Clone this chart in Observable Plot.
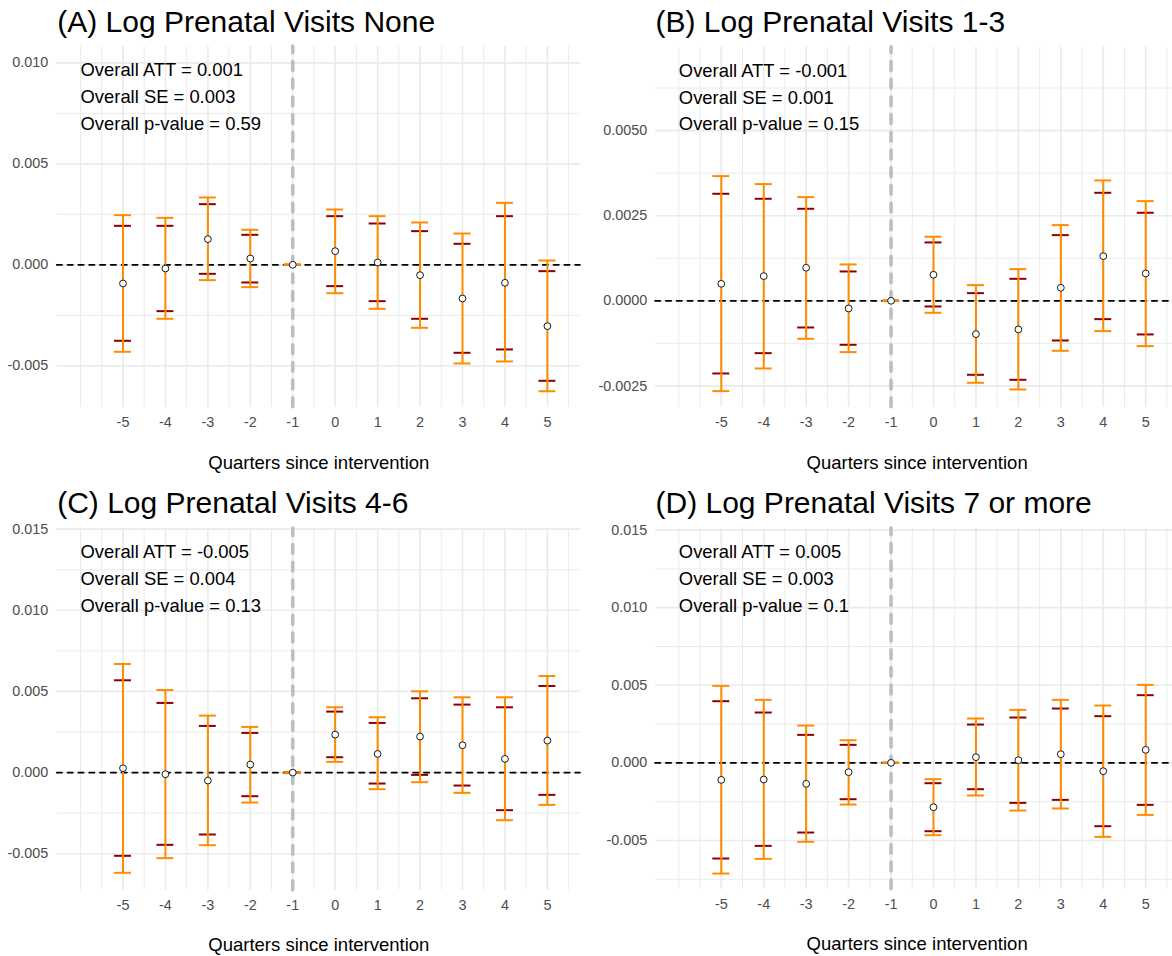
<!DOCTYPE html>
<html><head><meta charset="utf-8">
<script src="https://cdn.jsdelivr.net/npm/d3@7"></script>
<script src="https://cdn.jsdelivr.net/npm/@observablehq/plot@0.6"></script>
<style>
html,body{margin:0;padding:0;background:#fff;overflow:hidden;width:1172px;height:956px;}
#wrap{position:relative;width:1172px;height:956px;overflow:hidden;background:#fff;}
.panel{position:absolute;}
</style></head><body><div id="wrap"></div>
<script>
// ---------- data ----------
const quarters = [-5, -4, -3, -2, -1, 0, 1, 2, 3, 4, 5];
const xTickLabels = ["-5", "-4", "-3", "-2", "-1", "0", "1", "2", "3", "4", "5"];
const xLabel = "Quarters since intervention";
const annotX = -6;

// (A)
const titleA = "(A) Log Prenatal Visits None";
const statsA = ["Overall ATT = 0.001", "Overall SE = 0.003", "Overall p-value = 0.59"];
const estA   = [-0.000924, -0.000182, 0.001271, 0.000314, 0, 0.000677, 0.000116, -0.000512, -0.001667, -0.000891, -0.003036];
const ciLoA  = [-0.003762, -0.002294, -0.000446, -0.000875, 0, -0.001056, -0.001799, -0.002673, -0.004356, -0.004191, -0.005743];
const ciHiA  = [0.001931, 0.001931, 0.003003, 0.001485, 0, 0.002409, 0.002046, 0.001667, 0.001040, 0.002409, -0.000314];
const cbLoA  = [-0.004307, -0.002673, -0.000759, -0.001106, 0, -0.001403, -0.002178, -0.003119, -0.004884, -0.004785, -0.006260];
const cbHiA  = [0.002459, 0.002327, 0.003333, 0.001733, 0, 0.002739, 0.002409, 0.002096, 0.001551, 0.003069, 0.000215];
const yTicksA = [-0.005, 0, 0.005, 0.010];

// (B)
const titleB = "(B) Log Prenatal Visits 1-3";
const statsB = ["Overall ATT = -0.001", "Overall SE = 0.001", "Overall p-value = 0.15"];
const estB   = [0.000500, 0.000725, 0.000970, -0.000225, 0, 0.000764, -0.000979, -0.000842, 0.000382, 0.001312, 0.000803];
const ciLoB  = [-0.002135, -0.001538, -0.000784, -0.001293, 0, -0.000167, -0.002174, -0.002321, -0.001166, -0.000539, -0.000989];
const ciHiB  = [0.003144, 0.002997, 0.002703, 0.000862, 0, 0.001714, 0.000225, 0.000646, 0.001929, 0.003173, 0.002586];
const cbLoB  = [-0.002654, -0.001988, -0.001117, -0.001508, 0, -0.000353, -0.002409, -0.002605, -0.001469, -0.000891, -0.001332];
const cbHiB  = [0.003663, 0.003428, 0.003046, 0.001068, 0, 0.001881, 0.000460, 0.000930, 0.002223, 0.003536, 0.002928];
const yTicksB = [-0.0025, 0, 0.0025, 0.005];

// (C)
const titleC = "(C) Log Prenatal Visits 4-6";
const statsC = ["Overall ATT = -0.005", "Overall SE = 0.004", "Overall p-value = 0.13"];
const estC   = [0.000267, -0.000103, -0.000493, 0.000493, 0, 0.002340, 0.001149, 0.002217, 0.001683, 0.000842, 0.001970];
const ciLoC  = [-0.005131, -0.004454, -0.003818, -0.001457, 0, 0.000944, -0.000677, -0.000144, -0.000800, -0.002319, -0.001375];
const ciHiC  = [0.005686, 0.004290, 0.002874, 0.002443, 0, 0.003756, 0.003058, 0.004577, 0.004187, 0.004023, 0.005337];
const cbLoC  = [-0.006178, -0.005275, -0.004475, -0.001847, 0, 0.000657, -0.001026, -0.000595, -0.001252, -0.002935, -0.001991];
const cbHiC  = [0.006691, 0.005090, 0.003510, 0.002812, 0, 0.004023, 0.003407, 0.005008, 0.004639, 0.004639, 0.005952];
const yTicksC = [-0.005, 0, 0.005, 0.010, 0.015];

// (D)
const titleD = "(D) Log Prenatal Visits 7 or more";
const statsD = ["Overall ATT = 0.005", "Overall SE = 0.003", "Overall p-value = 0.1"];
const estD   = [-0.001095, -0.001074, -0.001353, -0.000601, 0, -0.002857, 0.000365, 0.000172, 0.000558, -0.000537, 0.000838];
const ciLoD  = [-0.006164, -0.005348, -0.004489, -0.002341, 0, -0.004403, -0.001697, -0.002577, -0.002384, -0.004081, -0.002706];
const ciHiD  = [0.003973, 0.003243, 0.001804, 0.001160, 0, -0.001310, 0.002470, 0.002921, 0.003501, 0.003007, 0.004360];
const cbLoD  = [-0.007131, -0.006186, -0.005090, -0.002685, 0, -0.004661, -0.002105, -0.003071, -0.002942, -0.004768, -0.003351];
const cbHiD  = [0.004961, 0.004059, 0.002405, 0.001460, 0, -0.001052, 0.002857, 0.003415, 0.004059, 0.003694, 0.005026];
const yTicksD = [-0.005, 0, 0.005, 0.010, 0.015];

// ---------- drawing ----------
const FONT = "'Liberation Sans', Arial, 'DejaVu Sans', sans-serif";
const ORANGE = "#FF8C00", DARKRED = "#8B0000", GRID = "#EBEBEB", TICKTXT = "#4D4D4D";
const xDomain = [-6.55, 5.78];

function steps(lo, hi, step) {
  const out = [];
  const n0 = Math.ceil(lo / step - 1e-9), n1 = Math.floor(hi / step + 1e-9);
  for (let k = n0; k <= n1; k++) out.push(+(k * step).toFixed(10));
  return out;
}

const panels = [
  {title: titleA, stats: statsA, est: estA, ciLo: ciLoA, ciHi: ciHiA, cbLo: cbLoA, cbHi: cbHiA, yTicks: yTicksA, digits: 3,
   yDomain: [-0.00705, 0.01081], left: 0, top: 0, width: 586, mL: 56.7, mR: 6, mT: 46, mB: 71.3, titleDy: -14.3, xPad: 10, xLabDy: 56.3, labPad: 9},
  {title: titleB, stats: statsB, est: estB, ciLo: ciLoB, ciHi: ciHiB, cbLo: cbLoB, cbHi: cbHiB, yTicks: yTicksB, digits: 4,
   yDomain: [-0.003126, 0.00745], left: 586, top: 0, width: 600, mL: 69, mR: 7.7, mT: 46.7, mB: 71.3, titleDy: -15, xPad: 10, xLabDy: 56.3, labPad: 8.3},
  {title: titleC, stats: statsC, est: estC, ciLo: ciLoC, ciHi: ciHiC, cbLo: cbLoC, cbHi: cbHiC, yTicks: yTicksC, digits: 3,
   yDomain: [-0.00725, 0.01504], left: 0, top: 478, width: 586, mL: 56.7, mR: 6, mT: 50, mB: 66.3, titleDy: -15.7, xPad: 9.3, xLabDy: 55, labPad: 9},
  {title: titleD, stats: statsD, est: estD, ciLo: ciLoD, ciHi: ciHiD, cbLo: cbLoD, cbHi: cbHiD, yTicks: yTicksD, digits: 3,
   yDomain: [-0.00814, 0.0151], left: 586, top: 478, width: 600, mL: 69, mR: 7.7, mT: 50, mB: 67.3, titleDy: -15.7, xPad: 9.3, xLabDy: 55, labPad: 8.3}
];

const wrap = document.getElementById("wrap");

for (const p of panels) {
  const rows = quarters.map((q, i) => ({
    q, est: p.est[i], ciLo: p.ciLo[i], ciHi: p.ciHi[i], cbLo: p.cbLo[i], cbHi: p.cbHi[i]
  }));
  const step = p.yTicks[1] - p.yTicks[0];
  const yMinor = steps(p.yDomain[0], p.yDomain[1], step / 2);
  const xMinor = steps(-6, 5.5, 0.5);
  const capHalf = 0.2;

  const chart = Plot.plot({
    width: p.width,
    height: 478,
    marginLeft: p.mL, marginRight: p.mR, marginTop: p.mT, marginBottom: p.mB,
    style: {fontFamily: FONT, background: "transparent", overflow: "visible"},
    x: {domain: xDomain, axis: null},
    y: {domain: p.yDomain, axis: null},
    marks: [
      // grid
      Plot.gridY(yMinor, {stroke: GRID, strokeOpacity: 1, strokeWidth: 1}),
      Plot.gridY(p.yTicks, {stroke: GRID, strokeOpacity: 1, strokeWidth: 1.6}),
      Plot.gridX(xMinor, {stroke: GRID, strokeOpacity: 1, strokeWidth: 1}),
      Plot.gridX(quarters, {stroke: GRID, strokeOpacity: 1, strokeWidth: 1.6}),
      // axes
      Plot.axisY(p.yTicks, {tickSize: 0, tickPadding: p.labPad, fontSize: 14.4, color: TICKTXT, label: null,
        tickFormat: d => d.toFixed(p.digits)}),
      Plot.axisX(quarters, {tickSize: 0, tickPadding: p.xPad, fontSize: 14.4, color: TICKTXT, label: null,
        tickFormat: d => xTickLabels[quarters.indexOf(d)]}),
      // reference lines
      Plot.ruleY([0], {stroke: "black", strokeWidth: 1.7, strokeDasharray: "5.4,5.4", strokeLinecap: "round"}),
      Plot.ruleX([-1], {y1: () => p.yDomain[0], y2: () => p.yDomain[1], stroke: "#BEBEBE", strokeWidth: 3.6,
        strokeDasharray: "8.85,8.85", strokeLinecap: "round"}),
      // inner (dark red) error bars
      Plot.ruleX(rows, {x: "q", y1: "ciLo", y2: "ciHi", stroke: DARKRED, strokeWidth: 0.8}),
      Plot.ruleY(rows, {y: "ciLo", x1: d => d.q - capHalf, x2: d => d.q + capHalf, stroke: DARKRED, strokeWidth: 2}),
      Plot.ruleY(rows, {y: "ciHi", x1: d => d.q - capHalf, x2: d => d.q + capHalf, stroke: DARKRED, strokeWidth: 2}),
      // outer (orange) error bars
      Plot.ruleX(rows, {x: "q", y1: "cbLo", y2: "cbHi", stroke: ORANGE, strokeWidth: 2}),
      Plot.ruleY(rows, {y: "cbLo", x1: d => d.q - capHalf, x2: d => d.q + capHalf, stroke: ORANGE, strokeWidth: 2}),
      Plot.ruleY(rows, {y: "cbHi", x1: d => d.q - capHalf, x2: d => d.q + capHalf, stroke: ORANGE, strokeWidth: 2}),
      // point estimates
      Plot.dot(rows, {x: "q", y: "est", r: 3.4, fill: "white", stroke: "black", strokeWidth: 0.9}),
      // annotation
      ...p.stats.map((s, i) => Plot.text([s], {x: () => annotX, frameAnchor: "top", text: d => d,
        textAnchor: "start", lineAnchor: "middle", dy: 24 + i * 26.65, fontSize: 18.4, fill: "black"})),
      // title
      Plot.text([p.title], {frameAnchor: "top-left", text: d => d, textAnchor: "start", lineAnchor: "bottom",
        dy: p.titleDy, fontSize: 30, fill: "black"}),
      // x axis title
      Plot.text([xLabel], {frameAnchor: "bottom", text: d => d, textAnchor: "middle", lineAnchor: "middle",
        dy: p.xLabDy, fontSize: 18.5, fill: "black"})
    ]
  });
  chart.classList.add("panel");
  chart.style.left = p.left + "px";
  chart.style.top = p.top + "px";
  wrap.appendChild(chart);
}
</script>
</body></html>
